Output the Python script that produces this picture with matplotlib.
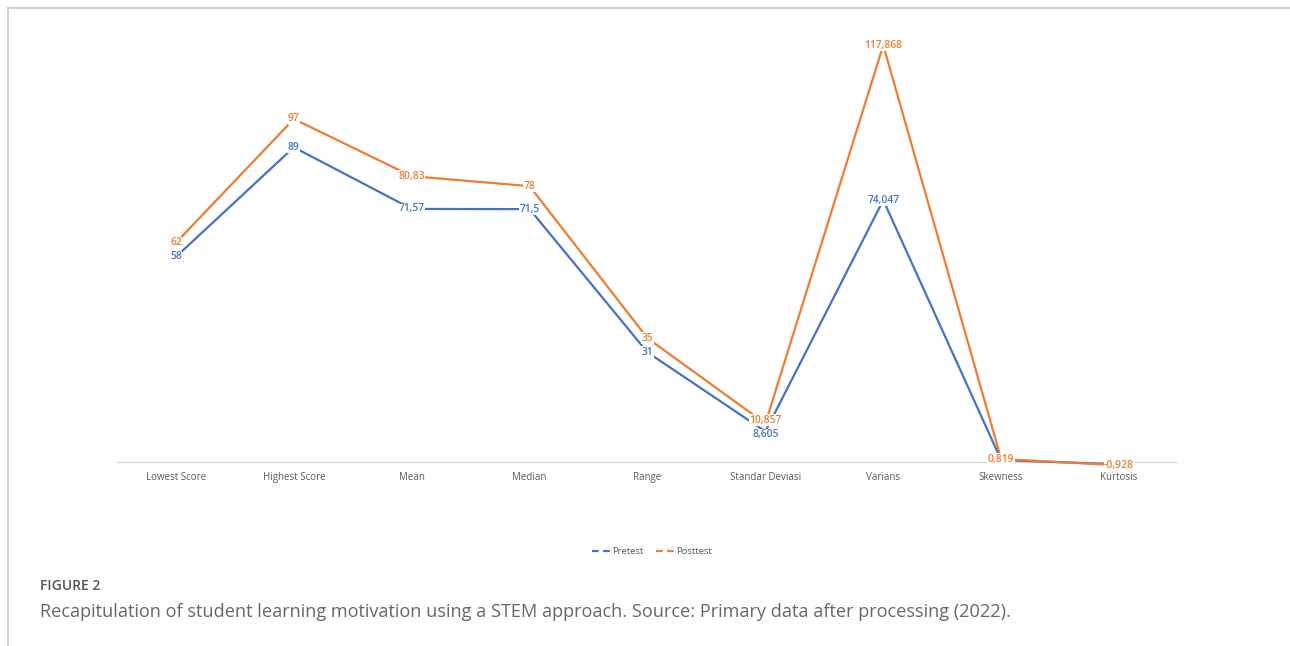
import matplotlib
matplotlib.use("Agg")
import matplotlib.pyplot as plt
from matplotlib.lines import Line2D

# data
categories = ["Lowest Score", "Highest Score", "Mean", "Median", "Range",
              "Standar Deviasi", "Varians", "Skewness", "Kurtosis"]
pretest = [58, 89, 71.57, 71.5, 31, 8.605, 74.047, 0.519, -0.688]
posttest = [62, 97, 80.83, 78, 35, 10.857, 117.868, 0.819, -0.928]
pre_labels = ["58", "89", "71,57", "71,5", "31", "8,605", "74,047", "0,519", "-0,688"]
post_labels = ["62", "97", "80,83", "78", "35", "10,857", "117,868", "0,819", "-0,928"]

blue = "#4472C4"
orange = "#ED7D31"

fig = plt.figure(figsize=(12.9, 6.46), dpi=100)

# frame lines of the page (top and left)
fig.add_artist(Line2D([8/1290, 1], [1-8/646, 1-8/646], color="#c8c8c8", lw=1.2))
fig.add_artist(Line2D([8/1290, 8/1290], [0, 1-8/646], color="#c8c8c8", lw=1.2))

ax = fig.add_axes([117/1290, 1-469/646, 1061/1290, 449/646])
x = list(range(len(categories)))

ax.plot(x, pretest, color=blue, lw=1.6, zorder=2)
ax.plot(x, posttest, color=orange, lw=1.6, zorder=2)

lab_font = dict(fontsize=7.4, fontweight="semibold", family="Open Sans",
                ha="center", va="center")
box = dict(boxstyle="square,pad=0.05", fc="white", ec="none")
for xi, a, b, sa, sb in zip(x, pretest, posttest, pre_labels, post_labels):
    # push close label pairs apart a little (skip the near-zero ones)
    nudge = 2.5 if 1 < abs(b - a) < 4 else 0
    ax.annotate(sa, (xi, a), xytext=(0, -nudge), textcoords="offset points",
                color=blue, bbox=box, zorder=3, **lab_font)
    ax.annotate(sb, (xi, b), xytext=(0, nudge), textcoords="offset points",
                color=orange, bbox=box, zorder=4, **lab_font)

ax.axhline(0, color="#d9d9d9", lw=1, zorder=1)
ax.set_xlim(-0.5, len(categories) - 0.5)
ax.set_ylim(-2, 125)
ax.set_yticks([])
ax.set_xticks(x)
ax.set_xticklabels(categories, fontsize=7, color="#595959", family="Open Sans")
ax.tick_params(axis="x", length=0, pad=2)
for sp in ax.spines.values():
    sp.set_visible(False)

handles = [Line2D([], [], color=blue, lw=1.6, dashes=(3, 2)),
           Line2D([], [], color=orange, lw=1.6, dashes=(3, 2))]
fig.legend(handles, ["Pretest", "Posttest"], loc="center",
           bbox_to_anchor=(652/1290, 1-552/646), ncol=2, frameon=False,
           handlelength=2.0, handletextpad=0.1, columnspacing=1.4,
           prop={"family": "Open Sans", "size": 6.8}, labelcolor="#595959")

fig.text(40/1290, 1-586/646, "FIGURE 2", fontsize=10, fontweight="semibold",
         color="#555555", family="Open Sans", va="center")
fig.text(40/1290, 1-612/646,
         "Recapitulation of student learning motivation using a STEM approach. "
         "Source: Primary data after processing (2022).",
         fontsize=13.1, color="#666666", family="Open Sans", va="center")

fig.savefig("out.png", dpi=100)
